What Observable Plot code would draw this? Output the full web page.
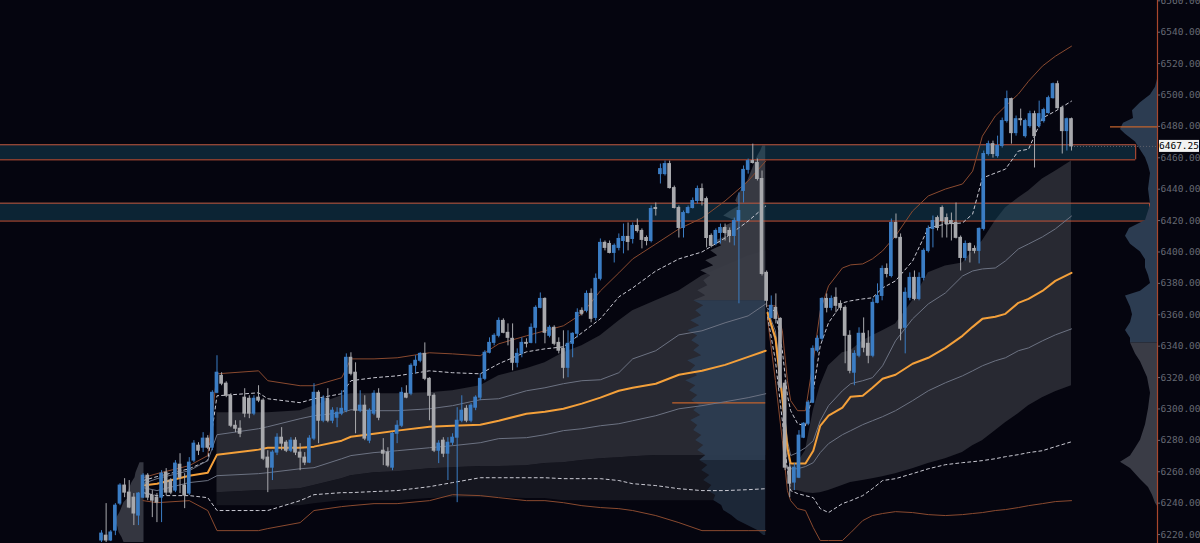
<!DOCTYPE html>
<html><head><meta charset="utf-8">
<script src="https://cdn.jsdelivr.net/npm/d3@7"></script>
<script src="https://cdn.jsdelivr.net/npm/@observablehq/plot@0.6"></script>
<style>html,body{margin:0;padding:0;background:#05050f;overflow:hidden}</style>
</head><body><div id="chart"></div>
<script>
// ---------- candles (1-min bars), index 0..210 ----------
const open = [6216.2,6219.3,6216.2,6222.5,6239.7,6251.2,6246.7,6243.5,6232.1,6243.5,6257.5,6244.8,6243.5,6243.5,6259.4,6254.4,6248.0,6264.5,6251.2,6246.1,6267.1,6276.6,6275.3,6281.1,6275.3,6310.3,6321.1,6316.1,6308.4,6289.3,6287.4,6307.2,6306.5,6297.0,6307.2,6305.3,6269.0,6262.6,6272.2,6281.7,6278.5,6273.4,6279.8,6272.2,6269.0,6265.8,6281.1,6310.3,6292.5,6306.5,6292.5,6294.4,6297.0,6298.9,6332.6,6323.1,6298.9,6302.1,6279.8,6297.0,6309.7,6273.4,6272.2,6262.6,6284.2,6289.3,6309.7,6309.7,6327.5,6330.7,6335.1,6319.2,6308.4,6273.4,6279.8,6271.5,6278.5,6281.7,6292.5,6300.1,6292.5,6300.8,6307.2,6319.2,6335.8,6342.1,6346.6,6356.1,6348.5,6344.7,6329.4,6335.1,6342.1,6342.1,6351.7,6364.4,6370.1,6346.6,6351.7,6342.1,6338.3,6326.2,6341.5,6347.9,6362.5,6362.5,6373.3,6358.0,6382.9,6405.8,6405.1,6399.4,6402.6,6407.0,6409.6,6408.3,6416.6,6413.4,6408.9,6407.0,6428.0,6449.6,6449.6,6456.0,6440.7,6428.0,6415.3,6424.8,6428.0,6432.5,6440.1,6433.7,6410.2,6405.1,6412.1,6415.3,6413.4,6410.2,6419.7,6438.9,6452.3,6457.9,6456.7,6446.5,6386.7,6358.0,6364.4,6357.4,6316.1,6262.6,6253.1,6256.2,6281.7,6290.6,6304.0,6337.1,6344.7,6370.1,6364.4,6370.8,6366.9,6364.4,6346.6,6323.1,6333.9,6347.9,6341.5,6333.9,6367.6,6372.0,6389.2,6384.7,6418.5,6409.0,6351.7,6370.8,6383.5,6370.1,6383.5,6400.7,6414.7,6421.6,6428.0,6421.6,6419.7,6418.5,6409.0,6396.2,6405.1,6401.9,6400.7,6414.7,6462.4,6468.7,6461.1,6467.5,6483.4,6497.4,6475.7,6484.6,6473.8,6480.2,6487.8,6480.2,6483.4,6488.5,6498.0,6506.9,6491.6,6477.0,6484.6];
const high = [6222.5,6239.7,6222.5,6239.7,6252.4,6255.6,6254.4,6246.1,6246.7,6258.8,6258.8,6248.0,6246.1,6260.7,6262.0,6255.6,6267.1,6271.5,6258.8,6269.0,6279.8,6278.5,6284.9,6283.0,6311.6,6333.9,6323.1,6317.3,6309.7,6292.5,6292.5,6312.9,6308.4,6308.4,6314.8,6306.5,6273.4,6273.4,6284.2,6288.1,6279.8,6281.7,6281.7,6277.9,6272.2,6283.0,6316.1,6311.6,6308.4,6312.9,6300.8,6300.8,6311.6,6335.1,6335.8,6329.4,6311.6,6308.4,6300.1,6311.6,6312.9,6281.1,6275.3,6284.9,6292.5,6313.5,6314.8,6328.8,6333.9,6335.8,6342.1,6319.9,6309.7,6279.8,6281.7,6281.7,6284.2,6300.8,6308.4,6302.1,6303.4,6308.4,6322.4,6337.1,6345.3,6347.9,6358.0,6357.4,6354.2,6354.2,6338.3,6345.3,6344.7,6354.2,6365.7,6373.9,6370.8,6353.0,6353.0,6345.3,6349.8,6349.8,6348.5,6363.8,6364.4,6375.2,6376.5,6386.0,6408.3,6407.0,6407.0,6405.1,6411.5,6417.8,6418.5,6418.5,6421.0,6414.7,6410.2,6429.3,6431.2,6456.0,6457.9,6457.9,6442.0,6429.3,6426.1,6429.3,6434.4,6442.0,6443.3,6435.0,6411.5,6414.7,6417.8,6417.8,6415.3,6421.6,6437.6,6454.8,6459.2,6468.7,6459.2,6451.6,6387.9,6372.0,6373.3,6358.0,6318.0,6265.2,6265.2,6286.2,6291.2,6305.3,6340.2,6346.6,6370.8,6373.3,6372.0,6377.1,6368.9,6365.7,6349.8,6337.1,6351.7,6358.0,6349.8,6370.1,6379.7,6391.1,6392.4,6421.0,6424.2,6411.5,6377.1,6386.7,6387.9,6386.7,6402.0,6416.6,6422.9,6422.9,6429.3,6424.2,6424.8,6431.2,6410.2,6407.0,6405.8,6403.9,6415.3,6464.3,6470.6,6470.6,6473.8,6485.3,6502.5,6498.0,6486.6,6491.0,6484.6,6489.7,6489.7,6496.1,6491.6,6499.3,6507.6,6508.8,6492.9,6485.3,6485.3];
const low = [6214.9,6214.9,6215.5,6219.3,6238.4,6243.5,6236.5,6225.7,6225.7,6242.9,6241.6,6230.8,6227.6,6227.6,6244.8,6245.4,6246.7,6246.1,6236.5,6244.8,6265.8,6270.3,6272.2,6274.1,6273.4,6309.7,6314.8,6307.2,6288.1,6284.9,6281.7,6294.4,6293.8,6295.7,6304.0,6267.1,6246.7,6254.4,6270.3,6273.4,6272.2,6272.2,6270.3,6260.7,6263.9,6265.2,6279.8,6277.9,6291.2,6291.2,6290.6,6288.1,6295.7,6297.6,6321.1,6284.2,6297.6,6279.8,6277.9,6295.7,6292.5,6263.9,6262.6,6260.7,6277.9,6288.1,6306.5,6308.4,6322.4,6329.4,6318.0,6292.5,6272.2,6265.2,6269.0,6254.4,6276.6,6240.3,6291.2,6291.2,6291.2,6298.9,6305.3,6318.0,6335.1,6340.2,6345.3,6347.9,6340.2,6324.3,6326.2,6332.6,6338.9,6341.5,6341.5,6363.8,6341.5,6345.3,6340.2,6335.1,6319.2,6319.9,6332.6,6345.3,6359.3,6361.2,6354.9,6356.1,6381.6,6400.7,6398.8,6393.0,6400.7,6398.8,6400.7,6405.1,6412.1,6402.0,6403.9,6405.8,6422.9,6443.3,6448.4,6440.1,6427.4,6408.9,6408.9,6424.2,6427.4,6430.6,6429.3,6402.6,6402.6,6403.9,6405.1,6407.0,6405.8,6403.9,6367.0,6431.2,6449.6,6456.0,6445.2,6384.7,6364.4,6357.4,6354.2,6312.9,6260.7,6243.5,6248.0,6255.6,6281.1,6289.3,6303.4,6335.8,6343.4,6361.2,6362.5,6361.2,6362.5,6328.8,6322.4,6314.8,6332.6,6335.8,6328.8,6332.6,6367.0,6368.9,6383.5,6383.5,6408.3,6343.4,6335.1,6368.9,6368.9,6368.9,6381.6,6399.4,6402.6,6413.4,6408.9,6408.9,6407.0,6408.3,6387.9,6394.3,6393.0,6398.8,6392.4,6413.4,6461.1,6459.8,6459.8,6466.2,6482.1,6468.7,6473.8,6480.2,6472.6,6478.9,6453.5,6478.9,6482.1,6487.8,6497.4,6491.0,6462.4,6464.3,6464.3];
const close = [6220.6,6216.2,6221.3,6238.4,6251.2,6246.7,6237.2,6233.4,6246.1,6257.5,6243.5,6241.6,6240.3,6258.8,6246.7,6246.7,6265.2,6256.2,6244.8,6265.8,6277.9,6273.4,6281.1,6275.3,6310.3,6323.1,6316.1,6308.4,6289.3,6287.4,6284.2,6297.0,6297.0,6306.5,6305.3,6268.3,6262.6,6272.2,6281.7,6277.9,6273.4,6279.8,6272.2,6269.0,6265.8,6281.1,6310.3,6292.5,6306.5,6292.5,6298.9,6297.6,6300.1,6332.6,6322.4,6298.9,6302.1,6281.1,6298.9,6309.7,6294.4,6271.5,6263.9,6284.2,6289.3,6310.3,6307.2,6327.5,6330.7,6335.1,6319.2,6308.4,6273.4,6277.9,6271.5,6278.5,6281.7,6292.5,6298.9,6292.5,6302.1,6307.2,6319.2,6335.8,6342.1,6346.6,6356.1,6348.5,6345.3,6329.4,6335.1,6342.1,6341.5,6351.7,6364.4,6370.1,6348.5,6351.7,6341.5,6337.1,6326.2,6341.5,6347.9,6361.2,6360.6,6373.3,6357.4,6382.9,6405.8,6402.6,6399.4,6403.9,6408.3,6409.6,6406.4,6416.6,6413.4,6407.7,6407.0,6427.4,6427.4,6452.8,6456.0,6440.7,6428.0,6415.3,6424.8,6428.0,6432.5,6440.1,6432.5,6408.9,6403.9,6413.4,6415.3,6412.1,6410.2,6419.7,6426.1,6452.3,6457.9,6456.7,6446.5,6386.0,6368.9,6365.7,6357.4,6313.5,6262.6,6252.4,6262.6,6283.0,6290.6,6304.0,6338.3,6344.7,6370.1,6364.4,6370.1,6365.7,6364.4,6346.6,6324.3,6335.1,6347.9,6339.0,6333.9,6367.6,6372.0,6389.2,6386.0,6418.5,6409.0,6351.1,6374.0,6383.5,6370.1,6383.5,6400.7,6414.7,6419.7,6415.3,6419.7,6417.8,6417.8,6409.0,6396.2,6405.1,6400.7,6400.7,6414.7,6462.4,6468.7,6462.4,6467.5,6483.4,6497.4,6475.7,6484.6,6484.0,6483.4,6487.8,6473.8,6487.8,6490.4,6498.0,6506.9,6491.6,6477.0,6484.6,6467.25];

// ---------- session A bands (anchored VWAP), sampled at bar index ----------
const gridA = [9,12,19,23,25,34,36,43,46,52,54,59,64,71,76,82,86,92,96,100,104,108,112,115,120,125,130,135,140,143.8];
const vwapA = [6251.2,6252.4,6257.5,6259.4,6270.9,6274.1,6275.3,6275.3,6276.0,6279.8,6282.3,6284.2,6286.2,6288.7,6289.3,6290.0,6292.5,6297.0,6298.2,6300.1,6303.4,6307.2,6311.6,6313.5,6316.1,6321.8,6324.3,6328.1,6333.2,6337.1];
const up1A = [6252.4,6255.6,6260.7,6267.1,6283.6,6287.4,6288.7,6293.8,6295.7,6297.6,6299.5,6298.9,6298.9,6300.1,6302.1,6305.9,6306.5,6311.6,6313.5,6316.1,6318.0,6318.6,6323.1,6331.9,6337.1,6347.2,6349.8,6354.9,6359.3,6366.9];
const dn1A = [6249.9,6248.0,6253.1,6254.4,6257.5,6258.8,6259.4,6261.9,6262.6,6268.3,6270.3,6272.2,6273.4,6275.3,6276.6,6278.5,6281.1,6281.7,6283.6,6286.2,6287.4,6289.3,6290.6,6292.5,6295.7,6300.1,6302.1,6304.6,6307.2,6309.7];
const up2A = [6254.4,6256.9,6261.9,6267.1,6308.4,6310.3,6306.5,6304.0,6306.5,6309.7,6318.0,6319.9,6321.1,6324.3,6323.1,6322.4,6328.8,6336.4,6338.3,6339.6,6348.5,6357.4,6371.4,6377.1,6387.9,6395.6,6400.0,6408.9,6419.7,6429.3];
const dn2A = [6246.7,6244.8,6244.8,6243.5,6235.3,6235.3,6235.3,6241.6,6245.4,6246.7,6246.7,6247.4,6248.0,6250.5,6253.1,6256.2,6256.2,6256.2,6256.2,6255.6,6255.6,6255.6,6254.4,6252.4,6251.2,6249.2,6248.0,6248.0,6248.6,6249.2];
const up3A = [6256.2,6258.8,6263.9,6270.3,6322.4,6324.3,6318.0,6314.8,6314.8,6319.9,6331.9,6331.9,6332.6,6335.8,6335.1,6333.9,6341.5,6346.6,6349.8,6353.0,6360.6,6375.2,6386.7,6395.6,6405.1,6414.7,6421.6,6432.5,6445.2,6457.9];
const dn3A = [6241.6,6240.3,6241.6,6235.3,6222.5,6222.5,6223.8,6227.6,6235.3,6237.8,6238.4,6239.7,6239.7,6241.6,6245.4,6244.8,6243.5,6241.6,6241.6,6240.3,6238.4,6237.2,6236.5,6235.3,6232.1,6227.6,6222.5,6222.5,6222.5,6222.5];
// shaded band of session A (starts at grid index 4)
const fillTopA = [6297.6,6297.6,6297.6,6298.9,6302.1,6308.4,6309.7,6309.7,6309.7,6310.3,6311.6,6314.8,6321.1,6325.6,6329.4,6335.8,6340.2,6346.6,6356.1,6362.5,6368.9,6375.2,6384.7,6391.1,6397.5,6400.7];
const fillBotA = [6246.7,6248.0,6248.0,6249.2,6251.2,6255.6,6257.5,6259.4,6260.0,6261.9,6262.6,6263.3,6263.3,6263.9,6265.2,6265.8,6267.1,6268.3,6269.0,6269.6,6270.3,6270.3,6270.3,6270.3,6270.3,6270.3];
const fillLowA = [6238.4,6238.4,6238.4,6238.4,6239.7,6241.6,6241.6,6241.6,6241.6,6242.9,6243.5,6243.5,6243.5,6242.9,6242.9,6241.6,6241.6,6241.6,6241.6,6241.6,6241.6,6241.6,6241.6,6241.6,6241.6,6241.6];

// ---------- session B bands ----------
const gridB = [144.2,145.9,147.4,148.5,149.2,150.7,152.4,154.1,155.6,157.4,160.4,162.2,164.8,166.9,169.1,171.9,175.6,179,182.7,186.4,188.6,190.7,193.5,195.7,198.5,200.7,203.7,206.5,210];
const vwapB = [6361.2,6345.3,6307.2,6275.3,6265.2,6265.2,6265.2,6273.4,6289.3,6295.7,6300.8,6307.8,6308.4,6313.5,6319.2,6321.8,6328.8,6332.6,6338.9,6346.6,6352.3,6357.4,6358.7,6360.6,6367.6,6370.1,6375.2,6381.6,6386.7];
const up1B = [6362.5,6349.8,6311.6,6279.8,6270.3,6272.2,6275.3,6279.8,6292.5,6302.1,6311.6,6316.1,6318.0,6319.9,6327.5,6343.4,6357.4,6366.9,6373.9,6384.7,6387.9,6389.2,6389.8,6394.3,6401.9,6405.1,6409.6,6414.7,6422.9];
const dn1B = [6359.9,6343.4,6305.3,6272.2,6261.9,6261.9,6263.3,6265.8,6272.2,6277.9,6283.6,6286.2,6290.0,6292.5,6295.1,6298.9,6305.3,6311.6,6316.7,6321.1,6324.3,6327.5,6330.7,6332.6,6337.1,6338.9,6343.4,6347.2,6351.0];
const up2B = [6363.8,6362.5,6337.1,6308.4,6298.9,6290.6,6289.3,6311.6,6340.2,6354.9,6367.6,6368.9,6370.1,6370.8,6377.1,6381.6,6394.3,6415.3,6417.8,6418.5,6424.2,6447.1,6450.3,6452.8,6464.3,6465.5,6485.3,6489.7,6496.1];
const dn2B = [6358.7,6330.7,6292.5,6260.7,6248.0,6246.1,6244.8,6243.5,6236.5,6234.0,6239.7,6241.6,6244.8,6249.2,6254.4,6255.6,6258.8,6261.9,6264.5,6265.8,6266.4,6267.1,6268.3,6269.6,6270.9,6272.2,6273.4,6276.0,6279.1];
const up3B = [6365.7,6365.7,6349.8,6318.0,6305.3,6298.9,6298.9,6330.7,6362.5,6378.4,6389.8,6391.8,6392.4,6395.6,6400.7,6410.2,6426.1,6435.7,6440.1,6443.3,6451.5,6473.8,6486.6,6492.9,6500.6,6508.8,6518.4,6524.7,6531.1];
const dn3B = [6357.4,6318.0,6279.8,6248.0,6241.6,6236.5,6235.3,6224.4,6216.2,6216.2,6216.2,6221.2,6228.9,6232.1,6233.4,6234.6,6234.0,6232.7,6232.1,6232.7,6233.4,6234.0,6235.3,6235.9,6237.2,6238.4,6239.7,6241.0,6241.6];
const fillTopB = [6263.9,6265.8,6273.4,6298.9,6314.8,6327.5,6335.8,6337.1,6343.4,6346.6,6349.8,6354.2,6368.9,6386.7,6391.1,6393.0,6400.7,6407.0,6419.7,6428.0,6434.4,6438.8,6446.5,6451.5,6457.9];
const fillBotB = [6248.0,6248.0,6246.7,6246.1,6246.7,6248.0,6251.2,6253.1,6254.4,6255.6,6256.9,6258.8,6261.9,6265.2,6268.3,6272.2,6276.6,6279.8,6286.2,6291.2,6297.0,6302.1,6307.2,6311.0,6314.8];

// ---------- session A volume profile: bucket volumes from 6467.5 downward, 3.18-pt buckets ----------
const profA_top = 6467.5, profA_step = 3.18;
const profA_vol = [3,5,8,10,12,14,16,18,22,25,28,30,26,35,42,30,40,45,38,50,44,55,48,60,52,65,55,62,58,68,60,72,62,70,64,75,66,78,68,74,66,72,64,78,70,75,68,80,70,76,68,74,66,72,65,75,68,72,64,70,62,68,60,66,58,64,56,62,54,58,50,52,44,42,34,28,18,8,2];
const profA_vaHigh = 6368.9, profA_vaLow = 6267.1;
const profA_poc = 6303.9;

// ---------- previous-session profile (left, ends where session A starts) ----------
const profP_top = 6265.8, profP_step = 3.18;
const profP_vol = [4,6,8,9,12,14,16,15,20,22,24,27,28,26,25,22,20];

// ---------- composite profile at the right edge ----------
const profR_price = [6510,6505,6500,6495,6490,6485,6482,6478,6475,6470,6465,6460,6455,6450,6440,6430,6420,6415,6410,6405,6400,6395,6390,6385,6380,6375,6372,6365,6360,6355,6350,6345,6342,6335,6330,6320,6310,6300,6290,6280,6275,6270,6266,6262,6255,6250,6245,6240,6238];
const profR_vol = [0,2,7,17,25,24,34,37,32,22,17,12,9,7,9,7,12,28,32,27,17,12,12,9,7,17,32,27,25,27,32,27,27,22,17,10,7,9,12,17,22,27,37,27,17,9,5,2,0];
const profR_poc = 6479.7;
const profR_split = 6343;

// ---------- supply / demand zones ----------
const zoneTop = [6468.3, 6431.1];
const zoneBottom = [6458.7, 6419.7];
const zoneEnd = [223.9, 226.9];

const yTicks = d3.range(6220, 6561, 20);
const lastClose = close[close.length - 1];

// ---------- layout ----------
const xDomain = [-21.87, 228.62];
const yDomain = [6214.3, 6560.2];
const barPx = 4.619;           // px per bar
const endA = 143.8;            // right edge of session A profile (bar index)
const endP = 9.2;              // right edge of previous-session profile

const C = {
  bg: "#05050f", up: "#3b7dc4", down: "#a8a9ad",
  vwap: "#f4a03a", s1: "#6c7282", s2: "#c9c9d2", s3: "#8a4a2f",
  fill: "#282932", fillDark: "#15161f",
  zoneFill: "#175068", zoneStroke: "#c4553a",
  profBlue: "#2c3c51", profGray: "#3a3c46", profNavy: "#1d293a"
};

const candles = open.map((o, i) => ({i, o, h: high[i], l: low[i], c: close[i], up: close[i] >= o}));
const rows = (grid, vals) => grid.map((i, k) => ({i, v: vals[k]}));
const bandRows = (grid, top, bot) => grid.map((i, k) => ({i, t: top[k], b: bot[k]}));

const gA4 = gridA.slice(4), gB4 = gridB.slice(4);
const profA = profA_vol.map((v, k) => ({p: profA_top - k * profA_step, v}));
const profAHigh = profA.filter(d => d.p >= profA_vaHigh - 0.1);
const profAMid = profA.filter(d => d.p <= profA_vaHigh + 0.1 && d.p >= profA_vaLow - 0.1);
const profALow = profA.filter(d => d.p <= profA_vaLow + 0.1);
const profP = profP_vol.map((v, k) => ({p: profP_top - k * profP_step, v}));
const profR = profR_price.map((p, k) => ({p, v: profR_vol[k]}));
const profRUp = profR.filter(d => d.p >= profR_split - 1);
const profRDn = profR.filter(d => d.p <= profR_split + 1);
const zones = zoneTop.map((t, k) => ({t, b: zoneBottom[k], e: zoneEnd[k]}));

const line = (grid, vals, stroke, w, dash) =>
  Plot.line(rows(grid, vals), {x: "i", y: "v", stroke, strokeWidth: w, strokeDasharray: dash});
const prof = (data, end, fill, op = 1) =>
  Plot.areaX(data, {y: "p", x1: () => end, x2: d => end - d.v / barPx, fill, fillOpacity: op});

const chart = Plot.plot({
  width: 1200, height: 543,
  marginLeft: 0, marginRight: 43, marginTop: 0, marginBottom: 0,
  style: {background: C.bg, overflow: "visible"},
  x: {domain: xDomain, axis: null},
  y: {domain: yDomain, axis: null},
  marks: [
    // session shading
    Plot.areaY(bandRows(gA4, fillBotA, fillLowA), {x: "i", y1: "b", y2: "t", fill: C.fillDark}),
    Plot.areaY(bandRows(gA4, fillTopA, fillBotA), {x: "i", y1: "b", y2: "t", fill: C.fill}),
    Plot.areaY(bandRows(gB4, fillTopB, fillBotB), {x: "i", y1: "b", y2: "t", fill: C.fill}),
    // volume profiles of the sessions
    prof(profP, endP, C.profGray, 0.9),
    prof(profAHigh, endA, C.profGray, 0.95),
    prof(profAMid, endA, C.profBlue, 0.95),
    prof(profALow, endA, C.profNavy, 0.95),
    Plot.ruleY([profA_poc], {x1: endA - 93 / barPx, x2: endA, stroke: "#c2632c", strokeWidth: 1.2}),
    // zones
    Plot.rect(zones, {x1: xDomain[0], x2: "e", y1: "b", y2: "t", fill: C.zoneFill, fillOpacity: 0.42}),
    Plot.ruleY(zones, {y: "t", x1: xDomain[0], x2: "e", stroke: C.zoneStroke, strokeWidth: 1}),
    Plot.ruleY(zones, {y: "b", x1: xDomain[0], x2: "e", stroke: C.zoneStroke, strokeWidth: 1}),
    Plot.ruleX(zones, {x: "e", y1: "b", y2: "t", stroke: C.zoneStroke, strokeWidth: 1}),
    // composite profile
    prof(profRUp, xDomain[1], C.profBlue),
    prof(profRDn, xDomain[1], C.profGray),
    Plot.ruleY([profR_poc], {x1: xDomain[1] - 47 / barPx, x2: xDomain[1], stroke: "#c2632c", strokeWidth: 1.2}),
    // band lines session A
    line(gridA, dn3A, C.s3, 1), line(gridA, up3A, C.s3, 1),
    line(gridA, dn2A, C.s2, 1, "3,3"), line(gridA, up2A, C.s2, 1, "3,3"),
    line(gridA, dn1A, C.s1, 1), line(gridA, up1A, C.s1, 1),
    line(gridA, vwapA, C.vwap, 2),
    // band lines session B
    line(gridB, dn3B, C.s3, 1), line(gridB, up3B, C.s3, 1),
    line(gridB, dn2B, C.s2, 1, "3,3"), line(gridB, up2B, C.s2, 1, "3,3"),
    line(gridB, dn1B, C.s1, 1), line(gridB, up1B, C.s1, 1),
    line(gridB, vwapB, C.vwap, 2),
    // last price line
    Plot.ruleY([lastClose], {x1: candles.length - 1, x2: xDomain[1], stroke: "#5d616c", strokeWidth: 1, strokeDasharray: "1,2"}),
    // candles
    Plot.ruleX(candles, {x: "i", y1: "l", y2: "h", stroke: d => d.up ? C.up : C.down, strokeWidth: 1}),
    Plot.rect(candles, {x1: d => d.i - 0.4, x2: d => d.i + 0.4, y1: "o", y2: "c",
      fill: d => d.up ? C.up : C.down, insetTop: -0.5, insetBottom: -0.5}),
    // price axis
    Plot.ruleX([xDomain[1]], {stroke: "#a9472d", strokeWidth: 1.2}),
    Plot.axisY(yTicks, {anchor: "right", tickFormat: d => d.toFixed(2), tickSize: 2, tickPadding: 1,
      fontSize: 9.5, fontFamily: "DejaVu Sans Mono", color: "#666973", stroke: "#666973"})
  ]
});

// current price tag
const ys = chart.scale("y"), xs = chart.scale("x");
const svg = d3.select(chart);
const px = xs.apply(xDomain[1]) + 2, py = ys.apply(lastClose);
svg.append("rect").attr("x", px).attr("y", py - 6).attr("width", 40).attr("height", 12).attr("fill", "#f2f2f2");
svg.append("text").attr("x", px + 20).attr("y", py).attr("dy", "0.35em").attr("text-anchor", "middle")
  .attr("font-family", "DejaVu Sans Mono").attr("font-size", 9.5).attr("fill", "#000").text(lastClose.toFixed(2));

document.getElementById("chart").appendChild(chart);
</script>
</body></html>
